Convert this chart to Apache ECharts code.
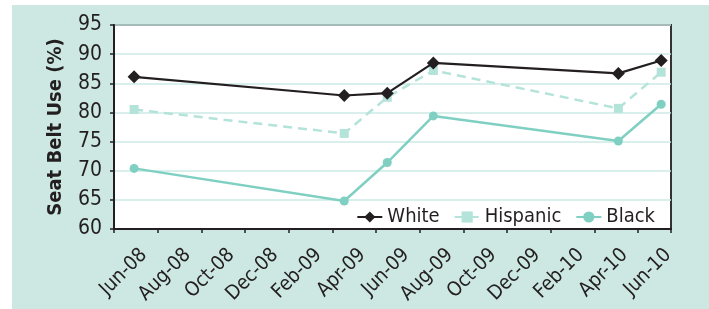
<!DOCTYPE html>
<html>
<head>
<meta charset="utf-8">
<script src="https://cdn.jsdelivr.net/npm/echarts@6/dist/echarts.min.js"></script>
<style>
  html, body { margin: 0; padding: 0; background: #fff; }
  .panel { position: absolute; left: 12px; top: 5px; right: 0; bottom: 0; background: #cde8e2; }
  #chart { position: absolute; left: 0; top: 0; width: 709px; height: 309px; }
</style>
</head>
<body>
<div class="panel"></div>
<div id="chart"></div>
<script>
// tick labels, one every two months starting Jun-08 (month 0)
const tickLabels = ['Jun-08', 'Aug-08', 'Oct-08', 'Dec-08', 'Feb-09', 'Apr-09', 'Jun-09',
  'Aug-09', 'Oct-09', 'Dec-09', 'Feb-10', 'Apr-10', 'Jun-10']
// survey positions, in months after Jun-08
const surveyMonths = [0.92, 10.54, 12.51, 14.62, 23.09, 25.05]
const white = [86.1, 82.9, 83.3, 88.5, 86.7, 88.9]
const hispanic = [80.5, 76.4, 82.6, 87.2, 80.7, 86.9]
const black = [70.4, 64.8, 71.4, 79.4, 75.1, 81.4]

const FONT = '"DejaVu Sans Condensed", "Liberation Sans", sans-serif'
const INK = '#231f20'
const LABEL_SHIFT = 30 // excel-style rotated labels sit right of their tick

const pairs = vals => surveyMonths.map((m, i) => [m, vals[i]])
const monthLabel = v => (Number.isInteger(v) && v % 2 === 0) ? (tickLabels[v / 2] || '') : ''

const chart = echarts.init(document.getElementById('chart'))

const xBase = { type: 'value', min: 0, max: 25.5, interval: 2, splitLine: { show: false } }

chart.setOption({
  animation: false,
  textStyle: { fontFamily: FONT },
  grid: [
    {
      left: 114, top: 25, right: 38, bottom: 80,
      show: true,
      backgroundColor: '#fff',
      borderColor: '#333',
      borderWidth: 2
    },
    // only carries the rotated month labels
    { left: 114 + LABEL_SHIFT, top: 25, right: 38 - LABEL_SHIFT, bottom: 80, show: false }
  ],
  legend: {
    right: 49,
    top: 202,
    itemWidth: 25,
    itemHeight: 14,
    itemGap: 14,
    textStyle: { fontFamily: FONT, fontSize: 20, color: INK },
    data: ['White', 'Hispanic', 'Black']
  },
  xAxis: [
    {
      ...xBase,
      gridIndex: 0,
      axisLine: { lineStyle: { color: INK, width: 2 } },
      axisTick: { length: 4, lineStyle: { color: INK, width: 1.5 } },
      axisLabel: { show: false }
    },
    {
      ...xBase,
      gridIndex: 1,
      axisLine: { show: false },
      axisTick: { show: false },
      axisLabel: {
        rotate: 45,
        margin: 23,
        fontFamily: FONT,
        fontSize: 20,
        color: INK,
        hideOverlap: false,
        showMinLabel: true,
        showMaxLabel: true,
        formatter: monthLabel
      }
    }
  ],
  yAxis: [
    {
      type: 'value',
      gridIndex: 0,
      min: 60,
      max: 95,
      interval: 5,
      name: 'Seat Belt Use (%)',
      nameLocation: 'middle',
      nameGap: 48,
      nameTextStyle: { fontFamily: FONT, fontSize: 20, fontWeight: 'bold', color: INK },
      axisLine: { show: true, lineStyle: { color: INK, width: 2 } },
      axisTick: { show: true, length: 4, lineStyle: { color: INK, width: 1.5 } },
      axisLabel: { fontFamily: FONT, fontSize: 21, color: INK, margin: 12 },
      splitLine: { lineStyle: { color: '#cdeae4', width: 1.5 } }
    },
    { type: 'value', gridIndex: 1, min: 60, max: 95, show: false }
  ],
  series: [
    {
      name: 'White',
      type: 'line',
      data: pairs(white),
      symbol: 'diamond',
      symbolSize: 13,
      itemStyle: { color: INK },
      lineStyle: { color: INK, width: 2.2 },
      z: 4
    },
    {
      name: 'Hispanic',
      type: 'line',
      data: pairs(hispanic),
      symbol: 'rect',
      symbolSize: 9,
      itemStyle: { color: '#b4e3da' },
      lineStyle: { color: '#b4e3da', width: 2.5, type: [9, 6] },
      z: 3
    },
    {
      name: 'Black',
      type: 'line',
      data: pairs(black),
      symbol: 'circle',
      symbolSize: 9,
      itemStyle: { color: '#7fd0c2' },
      lineStyle: { color: '#7fd0c2', width: 2.5 },
      z: 2
    }
  ]
})
</script>
</body>
</html>
